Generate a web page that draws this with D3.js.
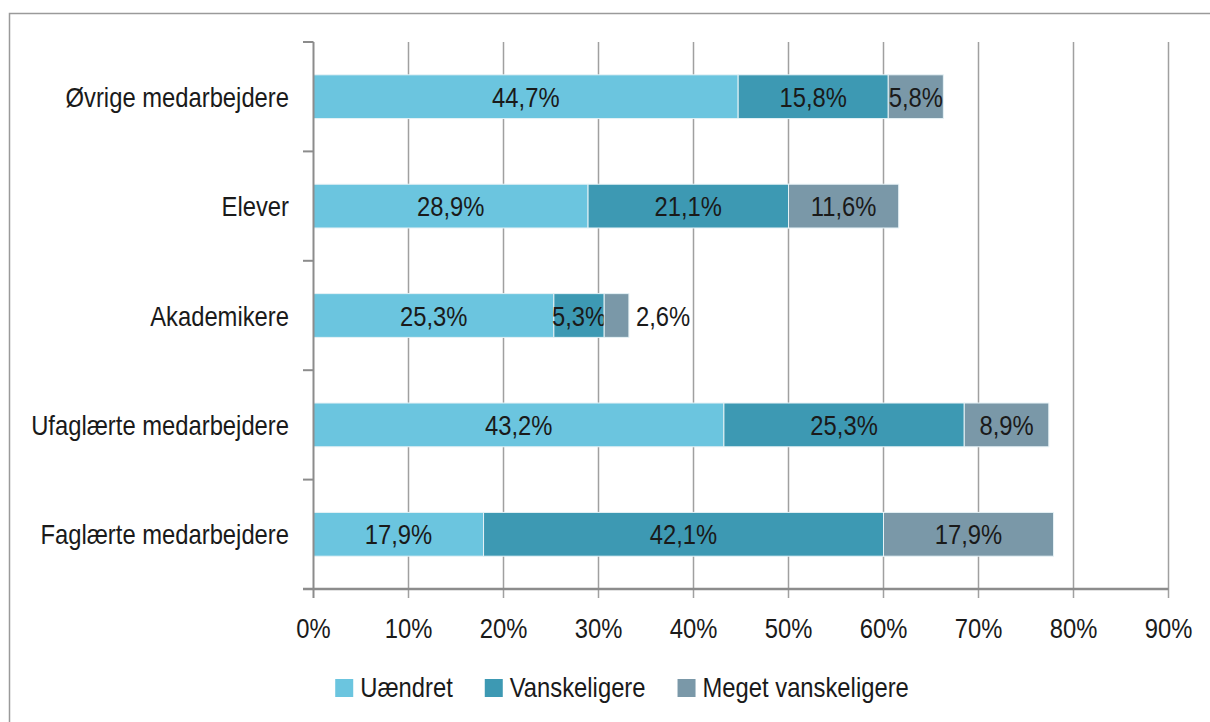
<!DOCTYPE html>
<html>
<head>
<meta charset="utf-8">
<script src="https://cdn.jsdelivr.net/npm/d3@7"></script>
<style>
  html, body { margin: 0; padding: 0; background: #fff; }
  svg text { font-family: "Liberation Sans", Arial, sans-serif; fill: #1a1a1a; }
</style>
</head>
<body>
<div id="chart"></div>
<script>
// --- Data ---
const categories = ["Øvrige medarbejdere", "Elever", "Akademikere", "Ufaglærte medarbejdere", "Faglærte medarbejdere"];
const seriesNames = ["Uændret", "Vanskeligere", "Meget vanskeligere"];
const uaendret = [44.7, 28.9, 25.3, 43.2, 17.9];
const vanskeligere = [15.8, 21.1, 5.3, 25.3, 42.1];
const megetVanskeligere = [5.8, 11.6, 2.6, 8.9, 17.9];
const xTicks = [0, 10, 20, 30, 40, 50, 60, 70, 80, 90];

// --- Config ---
const width = 1210, height = 722;
const colors = ["#6bc5df", "#3d99b3", "#7a98a8"];
const fontSize = 28;
const squeeze = 0.85; // no condensed font installed, so narrow a regular one

const svg = d3.select("#chart").append("svg")
    .attr("width", width).attr("height", height);

// condensed text helper
const place = (px, py) => `translate(${px},${py}) scale(${squeeze},1)`;

// chart frame
svg.append("rect")
    .attr("x", 9.5).attr("y", 13.5)
    .attr("width", 1220).attr("height", 730)
    .attr("fill", "none").attr("stroke", "#9a9a9a").attr("stroke-width", 1.5);

const x = d3.scaleLinear().domain([0, 90]).range([313.5, 1168.5]);
const y = d3.scaleBand().domain(categories).range([42, 589])
    .paddingInner(0.6).paddingOuter(0.3);

const stackData = categories.map((c, i) => {
    const o = { category: c };
    [uaendret, vanskeligere, megetVanskeligere].forEach((arr, j) => o[seriesNames[j]] = arr[i]);
    return o;
});
const stacked = d3.stack().keys(seriesNames)(stackData);

// gridlines
svg.append("g").selectAll("line").data(xTicks.slice(1)).enter()
  .append("line")
    .attr("x1", d => x(d)).attr("x2", d => x(d))
    .attr("y1", 42).attr("y2", 598)
    .attr("stroke", "#a0a0a0").attr("stroke-width", 1.5);

// category ticks on y axis (between bands)
const step = y.step();
const yTickPos = d3.range(categories.length + 1).map(i => 42 + i * step);
svg.append("g").selectAll("line").data(yTickPos).enter()
  .append("line")
    .attr("x1", 303).attr("x2", x(0))
    .attr("y1", d => d).attr("y2", d => d)
    .attr("stroke", "#8c8c8c").attr("stroke-width", 2);

// bars
const layer = svg.append("g").selectAll("g").data(stacked).enter()
  .append("g").attr("fill", (d, i) => colors[i]);

layer.selectAll("rect").data(d => d).enter()
  .append("rect")
    .attr("x", d => x(d[0]))
    .attr("y", d => y(d.data.category))
    .attr("width", d => x(d[1]) - x(d[0]))
    .attr("height", y.bandwidth())
    .attr("stroke", "#e6f2f6").attr("stroke-width", 1);

// data labels
const fmt = v => v.toFixed(1).replace(".", ",") + "%";
const narrow = d => x(d[1]) - x(d[0]) < 30;
layer.selectAll("text").data(d => d).enter()
  .append("text")
    .attr("transform", d => place(narrow(d) ? x(d[1]) + 7 : (x(d[0]) + x(d[1])) / 2,
                                 y(d.data.category) + y.bandwidth() / 2))
    .attr("dy", "0.36em")
    .attr("text-anchor", d => narrow(d) ? "start" : "middle")
    .style("font-size", fontSize + "px")
    .text(d => fmt(d[1] - d[0]));

// y axis line
svg.append("line")
    .attr("x1", x(0)).attr("x2", x(0))
    .attr("y1", 42).attr("y2", 598)
    .attr("stroke", "#8c8c8c").attr("stroke-width", 2);

// x axis line
svg.append("line")
    .attr("x1", 303).attr("x2", x(90))
    .attr("y1", 589).attr("y2", 589)
    .attr("stroke", "#8c8c8c").attr("stroke-width", 2.5);

// x tick labels
svg.append("g").selectAll("text").data(xTicks).enter()
  .append("text")
    .attr("transform", d => place(x(d), 638))
    .attr("text-anchor", "middle")
    .style("font-size", fontSize + "px")
    .text(d => d + "%");

// category labels
svg.append("g").selectAll("text").data(categories).enter()
  .append("text")
    .attr("transform", d => place(289, y(d) + y.bandwidth() / 2))
    .attr("dy", "0.36em")
    .attr("text-anchor", "end")
    .style("font-size", fontSize + "px")
    .text(d => d);

// legend
const legend = svg.append("g");
const items = legend.selectAll("g").data(seriesNames).enter().append("g");
items.append("rect")
    .attr("width", 18).attr("height", 18).attr("y", -18)
    .attr("fill", (d, i) => colors[i]);
items.append("text")
    .attr("transform", place(25, 0))
    .style("font-size", fontSize + "px")
    .text(d => d);
let cx = 0;
items.each(function() {
    const w = 25 + squeeze * d3.select(this).select("text").node().getComputedTextLength();
    d3.select(this).attr("transform", `translate(${cx},0)`);
    cx += w + 32;
});
const legendWidth = cx - 32;
legend.attr("transform", `translate(${622 - legendWidth / 2},697)`);
</script>
</body>
</html>
